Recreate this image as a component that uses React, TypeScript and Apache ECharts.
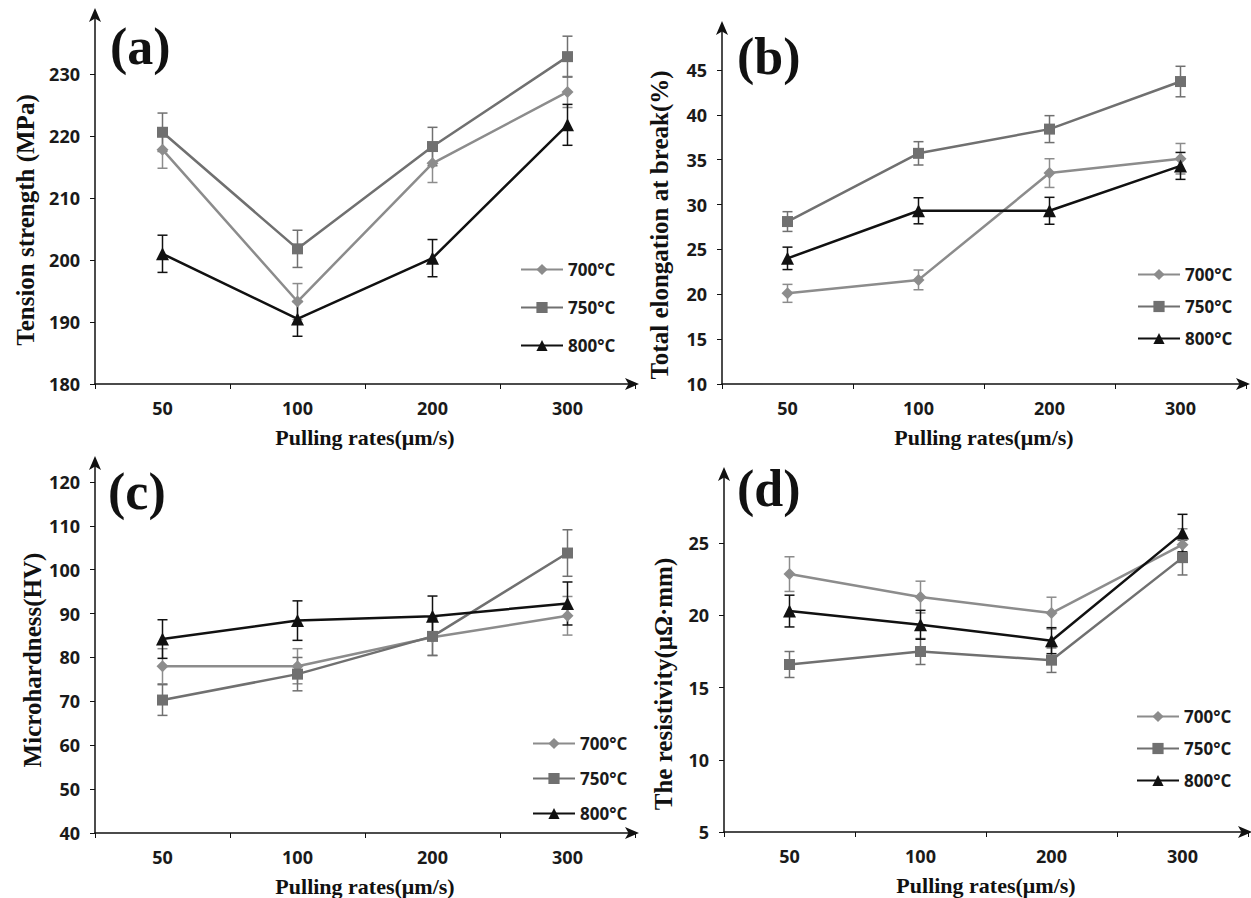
import React, { useEffect, useRef } from "react";
import * as echarts from "echarts";

const categories = ["50", "100", "200", "300"];
const seriesNames = ["700°C", "750°C", "800°C"];

// (a) Tension strength
const tension700 = [217.8, 193.3, 215.6, 227.1];
const tension750 = [220.6, 201.8, 218.3, 232.8];
const tension800 = [201.0, 190.5, 200.3, 221.8];
const tensionErr700 = [3.0, 2.9, 3.1, 2.5];
const tensionErr750 = [3.1, 3.0, 3.1, 3.3];
const tensionErr800 = [3.0, 2.8, 3.0, 3.3];

// (b) Total elongation
const elong700 = [20.1, 21.6, 33.5, 35.1];
const elong750 = [28.1, 35.7, 38.4, 43.7];
const elong800 = [24.0, 29.3, 29.3, 34.3];
const elongErr700 = [1.0, 1.1, 1.6, 1.7];
const elongErr750 = [1.1, 1.3, 1.5, 1.7];
const elongErr800 = [1.25, 1.45, 1.5, 1.5];

// (c) Microhardness
const hard700 = [78.0, 78.0, 84.6, 89.5];
const hard750 = [70.3, 76.2, 84.8, 103.8];
const hard800 = [84.2, 88.4, 89.4, 92.3];
const hardErr700 = [4.0, 4.0, 4.2, 4.4];
const hardErr750 = [3.5, 3.8, 4.3, 5.3];
const hardErr800 = [4.4, 4.5, 4.6, 4.9];

// (d) Resistivity
const res700 = [22.86, 21.27, 20.16, 24.9];
const res750 = [16.6, 17.5, 16.9, 24.0];
const res800 = [20.3, 19.35, 18.25, 25.7];
const resErr700 = [1.2, 1.1, 1.1, 1.1];
const resErr750 = [0.9, 0.9, 0.85, 1.2];
const resErr800 = [1.1, 1.0, 0.9, 1.3];

const panelLabels = ["(a)", "(b)", "(c)", "(d)"];
const yNames = [
  "Tension strength (MPa)",
  "Total elongation at break(%)",
  "Microhardness(HV)",
  "The resistivity(μΩ·mm)",
];
const xName = "Pulling rates(μm/s)";

const colors = ["#8c8c8c", "#707070", "#111111"];
const symbols = ["diamond", "rect", "triangle"];
const symbolSizes = [12, 11, 13];

const App: React.FC = () => {
  const ref = useRef<HTMLDivElement>(null);

  useEffect(() => {
    if (!ref.current) return;
    const chart = echarts.init(ref.current, undefined, { renderer: "svg" });

    const panels = [
      {
        grid: { left: 95, top: 12, width: 540, height: 372 },
        y: { min: 180, max: 240, interval: 10 },
        values: [tension700, tension750, tension800],
        errs: [tensionErr700, tensionErr750, tensionErr800],
        label: { left: 110, top: 20 },
        legend: { left: 515, top: 256, itemGap: 21 },
        yName: { x: 25, y: 220 },
      },
      {
        grid: { left: 722, top: 25, width: 524, height: 359 },
        y: { min: 10, max: 50, interval: 5 },
        values: [elong700, elong750, elong800],
        errs: [elongErr700, elongErr750, elongErr800],
        label: { left: 737, top: 30 },
        legend: { left: 1132, top: 261, itemGap: 15 },
        yName: { x: 659, y: 225 },
      },
      {
        grid: { left: 95, top: 460, width: 540, height: 375 },
        y: { min: 40, max: 125, interval: 10 },
        values: [hard700, hard750, hard800],
        errs: [hardErr700, hardErr750, hardErr800],
        label: { left: 108, top: 465 },
        legend: { left: 527, top: 730, itemGap: 18 },
        yName: { x: 32, y: 660 },
      },
      {
        grid: { left: 724, top: 471, width: 524, height: 361 },
        y: { min: 5, max: 30, interval: 5 },
        values: [res700, res750, res800],
        errs: [resErr700, resErr750, resErr800],
        label: { left: 737, top: 462 },
        legend: { left: 1131, top: 703, itemGap: 15 },
        yName: { x: 663, y: 684 },
      },
    ];

    const grids: any[] = [];
    const xAxes: any[] = [];
    const yAxes: any[] = [];
    const series: any[] = [];
    const legends: any[] = [];
    const titles: any[] = [];
    const graphics: any[] = [];

    const tickFont = {
      fontFamily: "Open Sans",
      fontWeight: "bold",
      fontSize: 18,
      color: "#1a1a1a",
    };
    const nameFont = {
      fontFamily: "Liberation Serif",
      fontWeight: "bold",
      fontSize: 22,
      color: "#111",
    };

    panels.forEach((p, pi) => {
      grids.push({ ...p.grid, containLabel: false });
      xAxes.push({
        type: "category",
        gridIndex: pi,
        data: categories,
        boundaryGap: true,
        name: xName,
        nameLocation: "middle",
        nameGap: 42,
        nameTextStyle: nameFont,
        axisLine: {
          show: true,
          symbol: ["none", "arrow"],
          symbolSize: [9, 14],
          symbolOffset: [0, 4],
          lineStyle: { color: "#111", width: 1.5 },
        },
        axisTick: { show: true, length: 5, lineStyle: { color: "#111" } },
        axisLabel: { ...tickFont, margin: 15 },
        splitLine: { show: false },
      });
      yAxes.push({
        type: "value",
        gridIndex: pi,
        min: p.y.min,
        max: p.y.max,
        interval: p.y.interval,
        axisLine: {
          show: true,
          symbol: ["none", "arrow"],
          symbolSize: [9, 14],
          symbolOffset: [0, 4],
          lineStyle: { color: "#111", width: 1.5 },
        },
        axisTick: { show: true, length: 5, lineStyle: { color: "#111" } },
        axisLabel: { ...tickFont, margin: 15, showMaxLabel: false },
        splitLine: { show: false },
      });

      graphics.push({
        type: "text",
        x: p.yName.x,
        y: p.yName.y,
        rotation: Math.PI / 2,
        style: {
          text: yNames[pi],
          fill: "#111",
          font: "bold 25px 'Liberation Serif'",
          textAlign: "center",
          textVerticalAlign: "middle",
        },
      });

      p.values.forEach((vals, si) => {
        const errs = p.errs[si];
        series.push({
          type: "custom",
          name: `err-${pi}-${si}`,
          xAxisIndex: pi,
          yAxisIndex: pi,
          silent: true,
          z: 1,
          data: vals.map((v, i) => [i, v - errs[i], v + errs[i]]),
          encode: { x: 0, y: [1, 2] },
          renderItem: (params: any, api: any) => {
            const x = api.value(0);
            const lo = api.coord([x, api.value(1)]);
            const hi = api.coord([x, api.value(2)]);
            const cap = 5;
            const style = { stroke: colors[si], lineWidth: 1.5 };
            return {
              type: "group",
              children: [
                { type: "line", shape: { x1: lo[0], y1: lo[1], x2: hi[0], y2: hi[1] }, style },
                { type: "line", shape: { x1: hi[0] - cap, y1: hi[1], x2: hi[0] + cap, y2: hi[1] }, style },
                { type: "line", shape: { x1: lo[0] - cap, y1: lo[1], x2: lo[0] + cap, y2: lo[1] }, style },
              ],
            };
          },
        });
        series.push({
          type: "line",
          name: seriesNames[si],
          xAxisIndex: pi,
          yAxisIndex: pi,
          data: vals,
          z: 3,
          symbol: symbols[si],
          symbolSize: symbolSizes[si],
          itemStyle: { color: colors[si] },
          lineStyle: { color: colors[si], width: 2.5 },
        });
      });

      legends.push({
        orient: "vertical",
        left: p.legend.left,
        top: p.legend.top,
        itemGap: p.legend.itemGap,
        itemWidth: 42,
        itemHeight: 14,
        selectedMode: false,
        data: seriesNames,
        textStyle: {
          fontFamily: "Open Sans",
          fontWeight: "bold",
          fontSize: 17,
          color: "#1a1a1a",
        },
      });

      titles.push({
        text: panelLabels[pi],
        left: p.label.left,
        top: p.label.top,
        padding: 0,
        textStyle: {
          fontFamily: "Liberation Serif",
          fontWeight: "bold",
          fontSize: 52,
          color: "#111",
        },
      });
    });

    chart.setOption({
      animation: false,
      backgroundColor: "#ffffff",
      title: titles,
      grid: grids,
      xAxis: xAxes,
      yAxis: yAxes,
      legend: legends,
      graphic: graphics,
      series,
    });

    return () => {
      chart.dispose();
    };
  }, []);

  return (
    <div
      ref={ref}
      style={{ position: "fixed", left: 0, top: 0, width: 1251, height: 898, background: "#fff" }}
    />
  );
};

export default App;
